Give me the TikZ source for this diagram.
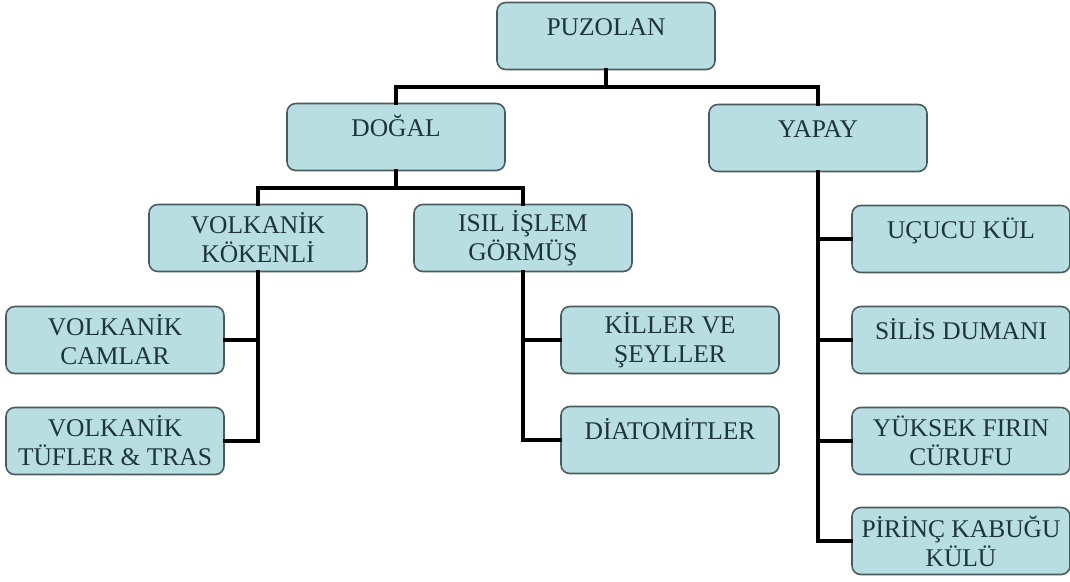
\documentclass[tikz,border=0pt]{standalone}
\usepackage{fontspec}
\setmainfont{Liberation Serif}
\usepackage{tikz}
\usetikzlibrary{arrows.meta}
\usepackage{xcolor}
\definecolor{kutu}{RGB}{184,222,226}
\definecolor{kenar}{RGB}{72,92,95}
\definecolor{yazi}{RGB}{28,52,58}

\begin{document}
\begin{tikzpicture}[line cap=rect,
  blok/.style={draw=kenar,line width=0.9pt,fill=kutu,rounded corners=5pt,
    minimum width=4.36cm,minimum height=1.34cm,inner sep=2pt,align=center,
    text=yazi,font=\fontsize{14.5}{16.5}\selectfont},
  tek/.style={blok,text height=0.44cm,text depth=0.48cm},
  kol/.style={line width=2.2pt,black}]
\useasboundingbox (0,0) rectangle (21.4,11.62);
\node[tek] (puzolan) at (12.12,10.9) {PUZOLAN};
\node[tek] (dogal) at (7.92,8.88) {DOĞAL};
\node[tek] (yapay) at (16.36,8.86) {YAPAY};
\node[blok] (koken) at (5.16,6.86) {VOLKANİK\\KÖKENLİ};
\node[blok] (isil) at (10.46,6.86) {ISIL İŞLEM\\GÖRMÜŞ};
\node[blok] (camlar) at (2.30,4.82) {VOLKANİK\\CAMLAR};
\node[blok] (tufler) at (2.30,2.80) {VOLKANİK\\TÜFLER \& TRAS};
\node[blok] (killer) at (13.40,4.82) {KİLLER VE\\ŞEYLLER};
\node[tek] (diatom) at (13.40,2.82) {DİATOMİTLER};
\node[tek] (ucucu) at (19.22,6.84) {UÇUCU KÜL};
\node[tek] (silis) at (19.22,4.82) {SİLİS DUMANI};
\node[blok] (yuksek) at (19.22,2.80) {YÜKSEK FIRIN\\CÜRUFU};
\node[blok] (pirinc) at (19.22,0.80) {PİRİNÇ KABUĞU\\KÜLÜ};
\coordinate (bus1) at (12.12,9.88);
\coordinate (bus2) at (7.92,7.86);
\draw[kol] (puzolan.south) -- (bus1);
\draw[kol] (dogal.north) |- (bus1) -| (yapay.north);
\draw[kol] (dogal.south) -- (bus2);
\draw[kol] (koken.north) |- (bus2) -| (isil.north);
\draw[kol] (koken.south) |- (camlar.east);
\draw[kol] (koken.south) |- (tufler.east);
\draw[kol] (isil.south) |- (killer.west);
\draw[kol] (isil.south) |- (diatom.west);
\draw[kol] (yapay.south) |- (ucucu.west);
\draw[kol] (yapay.south) |- (silis.west);
\draw[kol] (yapay.south) |- (yuksek.west);
\draw[kol] (yapay.south) |- (pirinc.west);
\end{tikzpicture}
\end{document}
